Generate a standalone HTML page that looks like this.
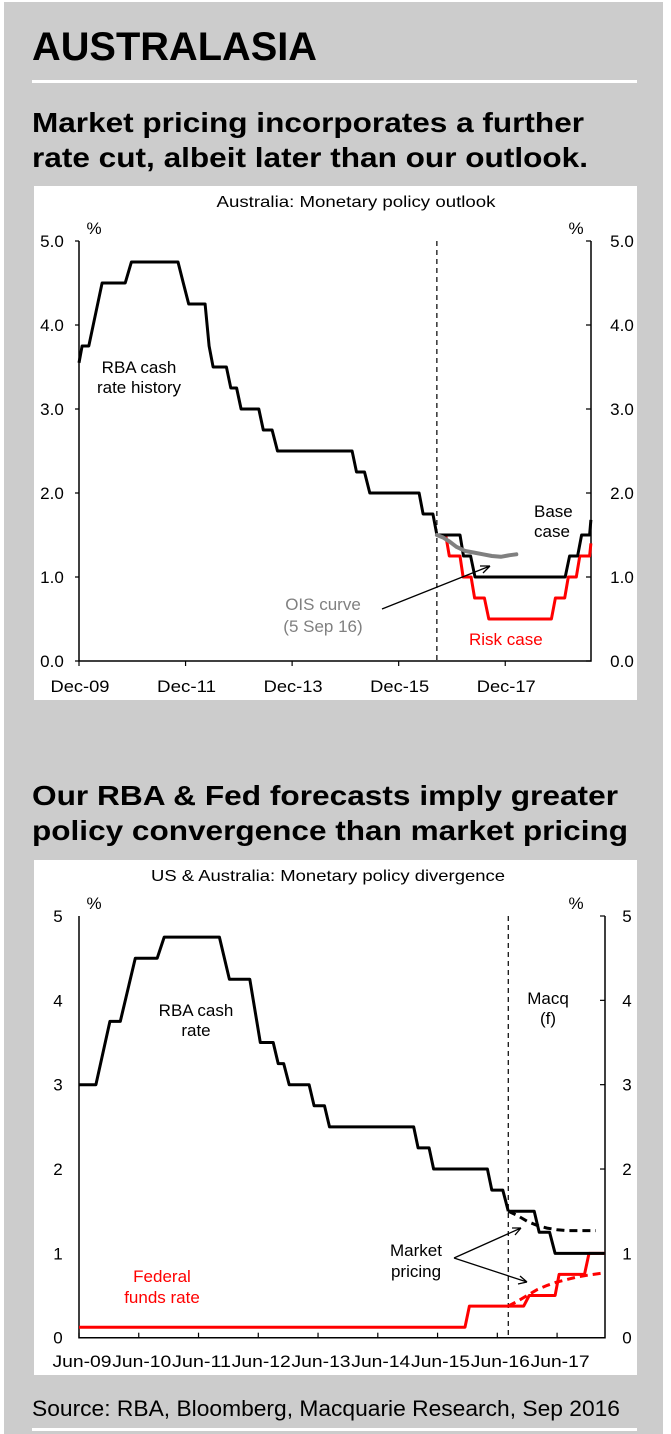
<!DOCTYPE html>
<html><head><meta charset="utf-8"><title>Australasia</title>
<style>
html,body{margin:0;padding:0;background:#fff;}
svg{display:block;font-family:"Liberation Sans",Arial,sans-serif;}
</style></head>
<body>
<svg id="page" width="671" height="1434" viewBox="0 0 671 1434" xmlns="http://www.w3.org/2000/svg">
  <rect x="4" y="2" width="659" height="1432" fill="#cccccc"/>
  <text x="32" y="60" font-size="40" font-weight="bold" textLength="285" lengthAdjust="spacingAndGlyphs">AUSTRALASIA</text>
  <rect x="32" y="80" width="605" height="3" fill="#fff"/>
  <text x="32" y="132" font-size="28" font-weight="bold" textLength="552" lengthAdjust="spacingAndGlyphs">Market pricing incorporates a further</text>
  <text x="32" y="167" font-size="28" font-weight="bold" textLength="556" lengthAdjust="spacingAndGlyphs">rate cut, albeit later than our outlook.</text>
  <rect x="34" y="186" width="603" height="514" fill="#fff"/>
  <text x="32" y="805" font-size="28" font-weight="bold" textLength="586" lengthAdjust="spacingAndGlyphs">Our RBA &amp; Fed forecasts imply greater</text>
  <text x="32" y="840" font-size="28" font-weight="bold" textLength="596" lengthAdjust="spacingAndGlyphs">policy convergence than market pricing</text>
  <rect x="34" y="860" width="603" height="515" fill="#fff"/>
  <text x="32" y="1416" font-size="22" textLength="588" lengthAdjust="spacingAndGlyphs">Source: RBA, Bloomberg, Macquarie Research, Sep 2016</text>
  <rect x="32" y="1428" width="605" height="3" fill="#fff"/>

  <g id="c1"></g>
  <g id="c2"></g>
</svg>
<script>
// ---------- Chart 1 data (months since Dec-09) ----------
const c1YTicks = [0,1,2,3,4,5];
const c1YLabels = ["0.0","1.0","2.0","3.0","4.0","5.0"];
const c1XTickMonths = [0,24,48,72,96];
const c1XLabels = ["Dec-09","Dec-11","Dec-13","Dec-15","Dec-17"];
const histMonths = [0,0.7,2.2,5.2,10.4,11.8,22.3,23.5,24.7,28.4,29.3,30.2,33.2,34.2,35.5,36.5,40.5,41.5,43.5,44.7,61.5,62.5,64.3,65.5,76.6,77.5,79.7,80.6];
const histValues = [3.55,3.75,3.75,4.5,4.5,4.75,4.75,4.5,4.25,4.25,3.75,3.5,3.5,3.25,3.25,3.0,3.0,2.75,2.75,2.5,2.5,2.25,2.25,2.0,2.0,1.75,1.75,1.5];
const baseMonths = [80.6,85.8,86.6,88.2,89.2,109.5,110.5,112.3,113.2,115,115.3];
const baseValues = [1.5,1.5,1.25,1.25,1.0,1.0,1.25,1.25,1.5,1.5,1.68];
const riskMonths = [80.6,82.6,83.4,85.8,86.5,88.3,89.1,91.3,92.3,106.4,107.3,109.4,110.2,112,112.8,115,115.3];
const riskValues = [1.5,1.5,1.25,1.25,1.0,1.0,0.75,0.75,0.5,0.5,0.75,0.75,1.0,1.0,1.25,1.25,1.4];
const oisMonths = [80.6,82,83.5,85,87,89,91,93,95,97,98.5];
const oisValues = [1.5,1.47,1.42,1.36,1.31,1.29,1.27,1.25,1.24,1.26,1.27];
const c1ForecastMonth = 80.6;

// ---------- Chart 2 data (months since Jun-09) ----------
const c2YTicks = [0,1,2,3,4,5];
const c2YLabels = ["0","1","2","3","4","5"];
const c2XTickMonths = [0,12,24,36,48,60,72,84,96];
const c2XLabels = ["Jun-09","Jun-10","Jun-11","Jun-12","Jun-13","Jun-14","Jun-15","Jun-16","Jun-17"];
const rbaMonths = [0,3.4,6.2,8.3,11.3,15.7,17.1,28.2,30.2,34.3,35.7,36.4,39,40,41.1,42.2,46.2,47.2,49.3,50.3,67.2,68.1,70.3,71.2,82,82.9,85.1,86.2];
const rbaValues = [3.0,3.0,3.75,3.75,4.5,4.5,4.75,4.75,4.25,4.25,3.75,3.5,3.5,3.25,3.25,3.0,3.0,2.75,2.75,2.5,2.5,2.25,2.25,2.0,2.0,1.75,1.75,1.5];
const rbaFcMonths = [86.2,91.4,92.4,94.5,95.6,105.6];
const rbaFcValues = [1.5,1.5,1.25,1.25,1.0,1.0];
const rbaMktMonths = [86.2,88,90,92,94,96,98,103.8];
const rbaMktValues = [1.5,1.45,1.38,1.33,1.3,1.28,1.27,1.27];
const fedMonths = [0,77.5,78.4,89.3,90.4,95.6,96.4,101.5,102.4,105.6];
const fedValues = [0.125,0.125,0.375,0.375,0.5,0.5,0.75,0.75,1.0,1.0];
const fedMktMonths = [86.2,88,90,92,94,96,98,100,102,105.6];
const fedMktValues = [0.375,0.43,0.5,0.57,0.62,0.66,0.69,0.72,0.74,0.77];
const c2ForecastMonth = 86.2;

const NS = "http://www.w3.org/2000/svg";
function mk(parent, tag, attrs, text) {
  const el = document.createElementNS(NS, tag);
  for (const k in attrs) el.setAttribute(k, attrs[k]);
  if (text !== undefined) el.textContent = text;
  parent.appendChild(el);
  return el;
}
function pathFrom(xs, ys, xf, yf) {
  return xs.map((m, i) => (i ? "L" : "M") + xf(m).toFixed(1) + "," + yf(ys[i]).toFixed(1)).join(" ");
}

// ---------- Chart 1 ----------
(function () {
  const g = document.getElementById("c1");
  const L = 79, R = 591, T = 241, B = 661;
  const x = m => L + m * 4.44;
  const y = v => B - v * (B - T) / 5;
  let t = mk(g, "text", {x: 356, y: 207, "font-size": 16, "text-anchor": "middle", textLength: 279, lengthAdjust: "spacingAndGlyphs"}, "Australia: Monetary policy  outlook");
  
  
  t = mk(g, "text", {x: 94, y: 234, "font-size": 17, "text-anchor": "middle"}, "%");
  
  
  t = mk(g, "text", {x: 576, y: 234, "font-size": 17, "text-anchor": "middle"}, "%");
  
  
  let ax = mk(g, "path", {d: `M${L},${T} L${L},${B} L${R},${B} L${R},${T}`, fill: "none", stroke: "#000", "stroke-width": 1.5});
  
  
  c1YTicks.forEach((v, i) => {
    const tk = mk(g, "path", {d: `M${R - 5},${y(v)} L${R},${y(v)} M${L - 4},${y(v)} L${L},${y(v)}`, stroke: "#000", "stroke-width": 1.2});
    
    
    const a = mk(g, "text", {x: 52, y: y(v) + 6, "font-size": 17, "text-anchor": "middle"}, c1YLabels[i]);
    
    
    const b = mk(g, "text", {x: 622, y: y(v) + 6, "font-size": 17, "text-anchor": "middle"}, c1YLabels[i]);
    
    
  });
  c1XTickMonths.forEach((m, i) => {
    const tk = mk(g, "path", {d: `M${x(m)},${B} L${x(m)},${B + 5}`, stroke: "#000", "stroke-width": 1.2});
    
    
    const a = mk(g, "text", {x: x(m) + 1, y: 692, "font-size": 17, "text-anchor": "middle", textLength: 59, lengthAdjust: "spacingAndGlyphs"}, c1XLabels[i]);
    
    
  });
  const dv = mk(g, "path", {d: `M${x(c1ForecastMonth)},${T} L${x(c1ForecastMonth)},${B}`, stroke: "#000", "stroke-width": 1.2, "stroke-dasharray": "5,4"});
  
  
  const risk = mk(g, "path", {d: pathFrom(riskMonths, riskValues, x, y), fill: "none", stroke: "#ff0000", "stroke-width": 3, "stroke-linejoin": "round"});
  
  
  const base = mk(g, "path", {d: pathFrom(baseMonths, baseValues, x, y), fill: "none", stroke: "#000", "stroke-width": 3, "stroke-linejoin": "round"});
  
  
  const hist = mk(g, "path", {d: pathFrom(histMonths, histValues, x, y), fill: "none", stroke: "#000", "stroke-width": 3, "stroke-linejoin": "round"});
  
  
  const ois = mk(g, "path", {d: pathFrom(oisMonths, oisValues, x, y), fill: "none", stroke: "#808080", "stroke-width": 4, "stroke-linecap": "round", "stroke-linejoin": "round"});
  
  
  const arr = mk(g, "path", {d: "M382,609 L490,566 M490,566 L480,566 M490,566 L483,573", fill: "none", stroke: "#000", "stroke-width": 1.3});
  
  
  const labels = [
    ["rba-history-label-1", 139, 373, "RBA cash", "#000", "middle"],
    ["rba-history-label-2", 139, 393, "rate history", "#000", "middle"],
    ["base-case-label-1", 534, 517, "Base", "#000", "start"],
    ["base-case-label-2", 534, 537, "case", "#000", "start"],
    ["ois-label-1", 323, 610, "OIS curve", "#808080", "middle"],
    ["ois-label-2", 323, 632, "(5 Sep 16)", "#808080", "middle"],
    ["risk-case-label", 469, 645, "Risk case", "#ff0000", "start"]
  ];
  labels.forEach(l => {
    const e = mk(g, "text", {x: l[1], y: l[2], "font-size": 17, fill: l[4], "text-anchor": l[5]}, l[3]);
    
    
  });
})();

// ---------- Chart 2 ----------
(function () {
  const g = document.getElementById("c2");
  const L = 79, R = 605, T = 916, B = 1337.7;
  const x = m => L + m * 4.98;
  const y = v => B - v * (B - T) / 5;
  let t = mk(g, "text", {x: 328, y: 881, "font-size": 16, "text-anchor": "middle", textLength: 354, lengthAdjust: "spacingAndGlyphs"}, "US & Australia: Monetary policy  divergence");
  
  
  t = mk(g, "text", {x: 94, y: 909, "font-size": 17, "text-anchor": "middle"}, "%");
  
  
  t = mk(g, "text", {x: 576, y: 909, "font-size": 17, "text-anchor": "middle"}, "%");
  
  
  let ax = mk(g, "path", {d: `M${L},${T} L${L},${B} L${R},${B} L${R},${T}`, fill: "none", stroke: "#000", "stroke-width": 1.5});
  
  
  c2YTicks.forEach((v, i) => {
    const tk = mk(g, "path", {d: `M${R - 5},${y(v)} L${R},${y(v)}`, stroke: "#000", "stroke-width": 1.2});
    
    
    const a = mk(g, "text", {x: 58, y: y(v) + 6, "font-size": 17, "text-anchor": "middle"}, c2YLabels[i]);
    
    
    const b = mk(g, "text", {x: 627, y: y(v) + 6, "font-size": 17, "text-anchor": "middle"}, c2YLabels[i]);
    
    
  });
  c2XTickMonths.forEach((m, i) => {
    const tk = mk(g, "path", {d: `M${x(m)},${B} L${x(m)},${B - 5}`, stroke: "#000", "stroke-width": 1.2});
    
    
    const a = mk(g, "text", {x: x(m) + 3, y: 1367, "font-size": 17, "text-anchor": "middle", textLength: 59, lengthAdjust: "spacingAndGlyphs"}, c2XLabels[i]);
    
    
  });
  const dv = mk(g, "path", {d: `M${x(c2ForecastMonth)},${T} L${x(c2ForecastMonth)},${B}`, stroke: "#000", "stroke-width": 1.2, "stroke-dasharray": "5,4"});
  
  
  const fed = mk(g, "path", {d: pathFrom(fedMonths, fedValues, x, y), fill: "none", stroke: "#ff0000", "stroke-width": 3, "stroke-linejoin": "round"});
  
  
  const fedM = mk(g, "path", {d: pathFrom(fedMktMonths, fedMktValues, x, y), fill: "none", stroke: "#ff0000", "stroke-width": 3, "stroke-dasharray": "8,5"});
  
  
  const rba = mk(g, "path", {d: pathFrom(rbaMonths, rbaValues, x, y), fill: "none", stroke: "#000", "stroke-width": 3, "stroke-linejoin": "round"});
  
  
  const rbaF = mk(g, "path", {d: pathFrom(rbaFcMonths, rbaFcValues, x, y), fill: "none", stroke: "#000", "stroke-width": 3, "stroke-linejoin": "round"});
  
  
  const rbaM = mk(g, "path", {d: pathFrom(rbaMktMonths, rbaMktValues, x, y), fill: "none", stroke: "#000", "stroke-width": 3, "stroke-dasharray": "8,5"});
  
  
  const arr = mk(g, "path", {d: "M454,1258 L521,1228 M521,1228 L512,1228 M521,1228 L515,1235 M454,1258 L527,1282 M527,1282 L520,1276 M527,1282 L518,1284", fill: "none", stroke: "#000", "stroke-width": 1.3});
  
  
  const labels = [
    ["rba-cash-rate-label-1", 196, 1016, "RBA cash", "#000"],
    ["rba-cash-rate-label-2", 196, 1036, "rate", "#000"],
    ["macq-forecast-label-1", 548, 1004, "Macq", "#000"],
    ["macq-forecast-label-2", 548, 1024, "(f)", "#000"],
    ["market-pricing-label-1", 416, 1256, "Market", "#000"],
    ["market-pricing-label-2", 416, 1277, "pricing", "#000"],
    ["fed-funds-label-1", 162, 1282, "Federal", "#ff0000"],
    ["fed-funds-label-2", 162, 1303, "funds rate", "#ff0000"]
  ];
  labels.forEach(l => {
    const e = mk(g, "text", {x: l[1], y: l[2], "font-size": 17, fill: l[4], "text-anchor": "middle"}, l[3]);
    
    
  });
})();
</script>
</body></html>
